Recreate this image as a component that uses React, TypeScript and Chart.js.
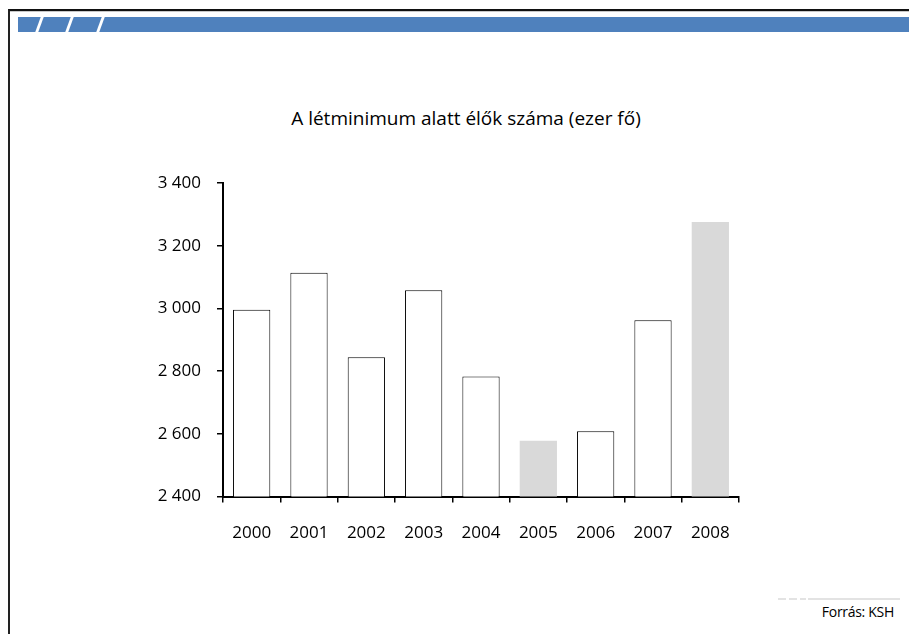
import React, { useEffect, useRef } from "react";
import { Chart, registerables } from "chart.js";

Chart.register(...registerables);

const categories = ["2000", "2001", "2002", "2003", "2004", "2005", "2006", "2007", "2008"];
const values = [2996, 3114, 2844, 3058, 2783, 2578, 2608, 2962, 3276];
const highlighted = [false, false, false, false, false, true, false, false, true];
const yMin = 2400;
const yMax = 3400;
const yStep = 200;
const titleText = "A létminimum alatt élők száma (ezer fő)";
const sourceText = "Forrás: KSH";

const FONT = "'Open Sans', sans-serif";

function fmt(v: number): string {
  return String(v).replace(/\B(?=(\d{3})+(?!\d))/g, " ");
}

export default function App() {
  const ref = useRef<HTMLCanvasElement | null>(null);

  useEffect(() => {
    if (!ref.current) return;
    const chart = new Chart(ref.current, {
      type: "bar",
      data: {
        labels: categories,
        datasets: [
          {
            data: values,
            backgroundColor: highlighted.map((h) => (h ? "#d9d9d9" : "#ffffff")),
            borderColor: highlighted.map((h) => (h ? "rgba(0,0,0,0)" : "#000000")),
            borderWidth: highlighted.map((h) => (h ? 0 : 1)),
            barPercentage: 0.65,
            categoryPercentage: 1,
          },
        ],
      },
      options: {
        animation: false,
        responsive: false,
        maintainAspectRatio: false,
        layout: { padding: { top: 183, right: 170, bottom: 71, left: 0 } },
        plugins: {
          legend: { display: false },
          tooltip: { enabled: false },
          title: { display: false },
        },
        scales: {
          x: {
            offset: true,
            grid: {
              display: true,
              offset: true,
              drawOnChartArea: false,
              drawTicks: true,
              tickLength: 6,
              color: "#000",
              lineWidth: 1.5,
            },
            border: { display: true, color: "#000", width: 2 },
            ticks: {
              color: "#000",
              font: { family: FONT, size: 17 },
              padding: 20,
            },
          },
          y: {
            min: yMin,
            max: yMax,
            afterFit: (scale: any) => {
              scale.width = 223;
            },
            grid: {
              display: true,
              drawOnChartArea: false,
              drawTicks: true,
              tickLength: 6,
              color: "#000",
              lineWidth: 1.5,
            },
            border: { display: true, color: "#000", width: 2 },
            ticks: {
              stepSize: yStep,
              color: "#000",
              font: { family: FONT, size: 17 },
              padding: 16,
              callback: (v: any) => fmt(Number(v)),
            },
          },
        },
      },
    });
    return () => chart.destroy();
  }, []);

  const slash = (x: number) => (
    <div
      style={{
        position: "absolute",
        left: x,
        top: 17,
        width: 3,
        height: 15,
        background: "#fff",
        transform: "skewX(-20deg)",
      }}
    />
  );

  return (
    <div style={{ position: "fixed", left: 0, top: 0, width: 909, height: 634, overflow: "hidden", background: "#fff" }}>
      <div
        style={{
          position: "absolute",
          left: 8,
          top: 9,
          width: 960,
          height: 700,
          borderTop: "2px solid #111",
          borderLeft: "2px solid #222",
        }}
      />
      <div style={{ position: "absolute", left: 10, top: 11, width: 900, height: 1, background: "#c8c8c8" }} />
      <div style={{ position: "absolute", left: 18, top: 17, width: 891, height: 15, background: "#4f81bd" }} />
      {slash(38)}
      {slash(68)}
      {slash(99)}
      <div
        style={{
          position: "absolute",
          left: 266,
          width: 400,
          top: 106,
          textAlign: "center",
          fontFamily: FONT,
          fontSize: 19,
          lineHeight: "24px",
          color: "#000",
          whiteSpace: "nowrap",
        }}
      >
        {titleText}
      </div>
      <div style={{ position: "absolute", left: 778, top: 598, width: 8, height: 2, background: "#e3e3e3" }} />
      <div style={{ position: "absolute", left: 789, top: 598, width: 8, height: 2, background: "#e3e3e3" }} />
      <div style={{ position: "absolute", left: 800, top: 598, width: 6, height: 2, background: "#e3e3e3" }} />
      <div style={{ position: "absolute", left: 808, top: 598, width: 92, height: 2, background: "#e3e3e3" }} />
      <div
        style={{
          position: "absolute",
          right: 909 - 894,
          top: 603,
          fontFamily: FONT,
          fontSize: 14,
          letterSpacing: -0.3,
          color: "#000",
          whiteSpace: "nowrap",
          lineHeight: "18px",
        }}
      >
        {sourceText}
      </div>
      <canvas ref={ref} width={909} height={634} style={{ position: "absolute", left: 0, top: 0, width: 909, height: 634 }} />
    </div>
  );
}
